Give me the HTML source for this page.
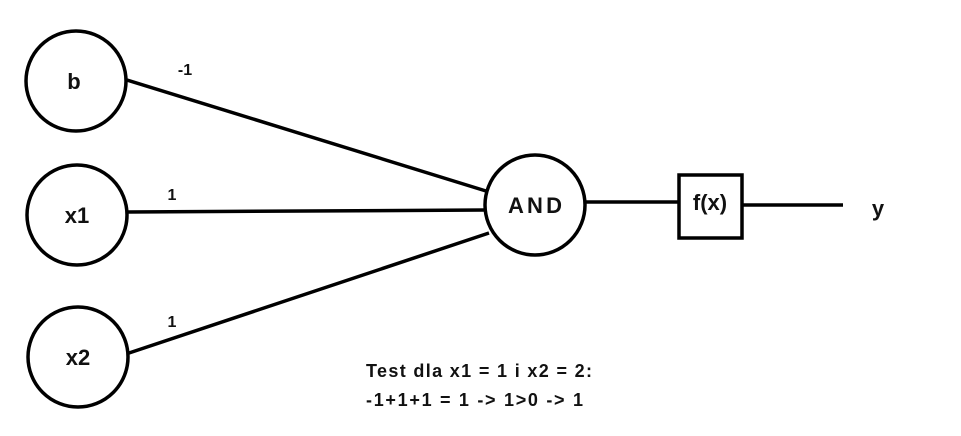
<!DOCTYPE html>
<html><head><meta charset="utf-8"><style>
html,body{margin:0;padding:0;background:#fff;width:961px;height:436px;overflow:hidden}
svg text{font-family:"Liberation Sans",sans-serif;font-weight:bold;fill:#111}
</style></head><body>
<svg width="961" height="436" viewBox="0 0 961 436">
<g stroke="#000" stroke-width="3.5" fill="none">
<line x1="127" y1="80" x2="486" y2="191"/>
<line x1="128" y1="212" x2="485" y2="210"/>
<line x1="129" y1="353" x2="489" y2="233"/>
<line x1="585" y1="202" x2="678" y2="202"/>
<line x1="743" y1="205" x2="843" y2="205"/>
<circle cx="76" cy="81" r="50"/>
<circle cx="77" cy="215" r="50"/>
<circle cx="78" cy="357" r="50"/>
<circle cx="535" cy="205" r="50"/>
<rect x="679" y="175" width="63" height="63"/>
</g>
<g font-size="22" text-anchor="middle">
<text x="74" y="89">b</text>
<text x="77" y="223">x1</text>
<text x="78" y="365">x2</text>
<text x="535" y="213" textLength="54">AND</text>
<text x="710" y="210">f(x)</text>
<text x="878" y="216">y</text>
</g>
<g font-size="16" text-anchor="middle">
<text x="185" y="75">-1</text>
<text x="172" y="200">1</text>
<text x="172" y="327">1</text>
</g>
<g font-size="18">
<text x="366" y="377" textLength="226">Test dla x1 = 1 i x2 = 2:</text>
<text x="366" y="406" textLength="217">-1+1+1 = 1 -&gt; 1&gt;0 -&gt; 1</text>
</g>
</svg>
</body></html>
